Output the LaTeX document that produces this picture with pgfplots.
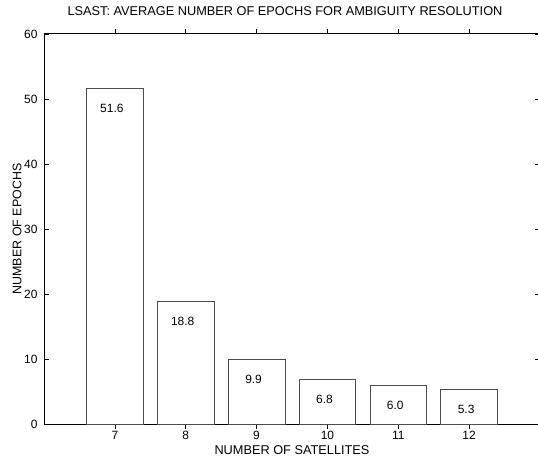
\documentclass[border=0pt]{standalone}
\usepackage{pgfplots}
\pgfplotsset{compat=1.18}
\usepackage{fontspec}
\setmainfont{Liberation Sans}
\begin{document}
\begin{tikzpicture}
\path[use as bounding box] (-44bp,-36bp) rectangle (494bp,424bp);
\begin{axis}[
  at={(0,0)}, anchor=south west,
  scale only axis, width=496bp, height=390bp,
  xmin=6, xmax=13, ymin=0, ymax=60,
  xtick={7,8,9,10,11,12}, ytick={0,10,20,30,40,50,60},
  tick align=inside, major tick length=5bp,
  tick style={black, line width=0.6pt},
  axis line style={black, line width=1pt},
  /pgf/number format/assume math mode=true,
  tick label style={font=\fontsize{12}{14}\selectfont},
  xticklabel style={anchor=center, yshift=-6bp},
  yticklabel style={anchor=east, xshift=-3bp},
  title={LSAST: AVERAGE NUMBER OF EPOCHS FOR AMBIGUITY RESOLUTION},
  title style={font=\fontsize{12.8}{15}\selectfont, at={(0.5,1.0423)}, anchor=center, xshift=-7bp},
  xlabel={NUMBER OF SATELLITES},
  xlabel style={font=\fontsize{12.8}{15}\selectfont, at={(0.5,-0.0667)}, anchor=center},
  ylabel={NUMBER OF EPOCHS},
  ylabel style={font=\fontsize{12.5}{15}\selectfont, at={(-0.0545,0.5)}, anchor=center},
  ybar, bar width=0.8,
  nodes near coords,
  nodes near coords style={font=\fontsize{12}{14}\selectfont, anchor=center, yshift=-20bp, xshift=-3bp,
    /pgf/number format/.cd, fixed, precision=1, zerofill, assume math mode=true},
]
\addplot[draw=black!70, fill=white, line width=0.8pt] coordinates {
  (7,51.6) (8,18.8) (9,9.9) (10,6.8) (11,6.0) (12,5.3)
};
\end{axis}
\end{tikzpicture}
\end{document}
